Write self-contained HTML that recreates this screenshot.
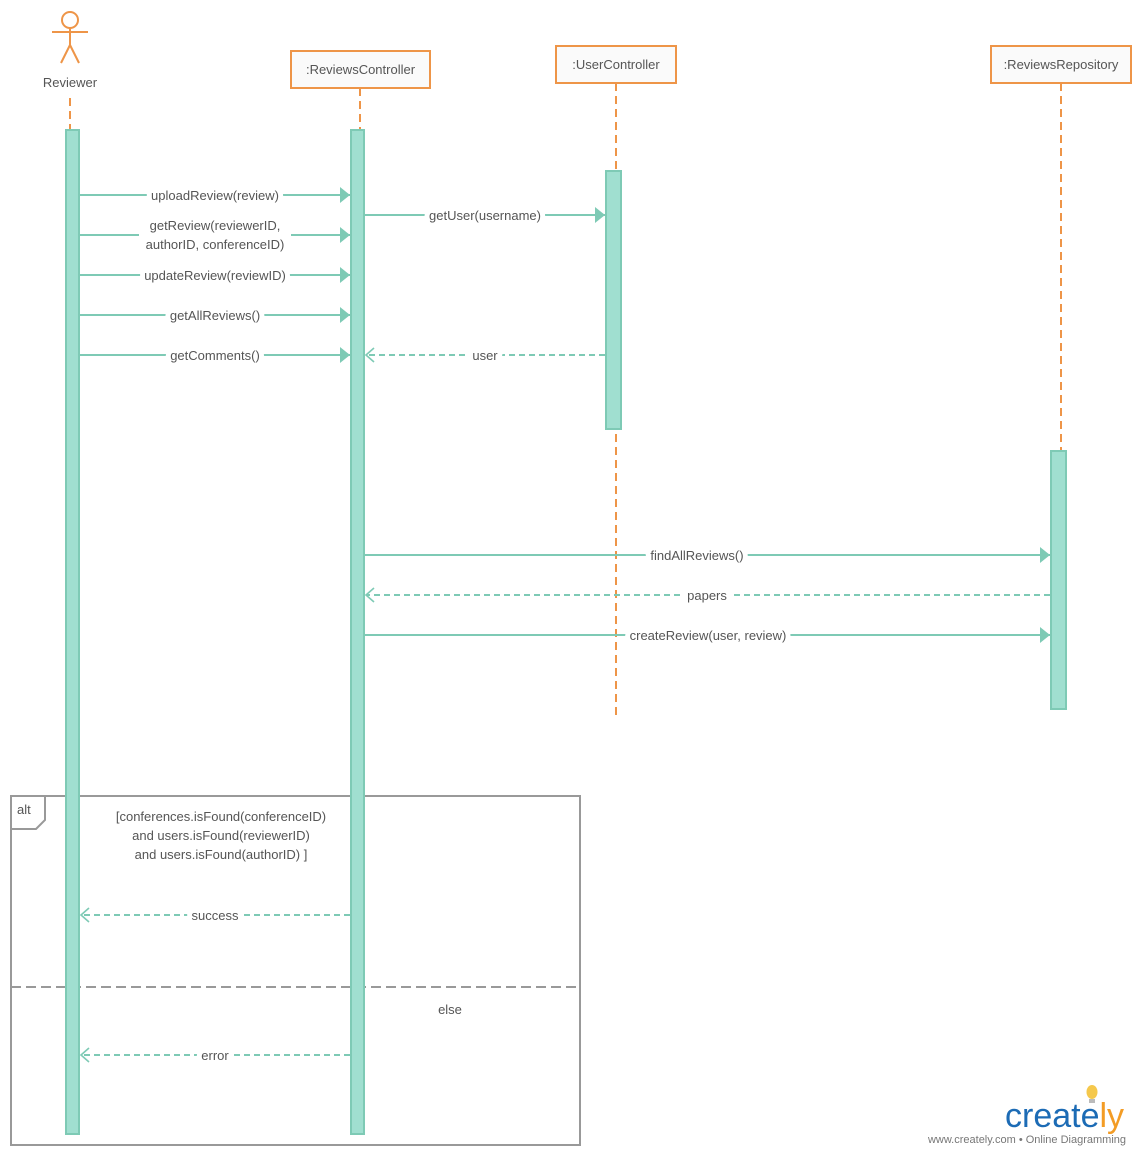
<!DOCTYPE html>
<html><head><meta charset="utf-8"><style>
html,body{margin:0;padding:0;background:#fff;}
svg{display:block;}
text{font-family:"Liberation Sans",sans-serif;font-size:13px;fill:#555;}
.lb{paint-order:stroke;stroke:#fff;stroke-width:10px;stroke-linejoin:round;}
</style></head><body>
<svg width="1140" height="1155" viewBox="0 0 1140 1155" xmlns="http://www.w3.org/2000/svg">
<defs>
<marker id="fa" markerWidth="12" markerHeight="16" refX="10" refY="8" orient="auto" markerUnits="userSpaceOnUse"><path d="M0,0 L10,8 L0,16 z" fill="#7ecab5"/></marker>
<marker id="oa" markerWidth="12" markerHeight="18" refX="9" refY="8" orient="auto" markerUnits="userSpaceOnUse"><path d="M1,1 L9,8 L1,15" fill="none" stroke="#7ecab5" stroke-width="1.6"/></marker>
</defs>

<!-- alt frame -->
<rect x="11" y="796" width="569" height="349" fill="none" stroke="#999" stroke-width="2"/>
<path d="M11,829 L36,829 L45,820 L45,796" fill="none" stroke="#999" stroke-width="2"/>
<text x="17" y="814">alt</text>
<line x1="11" y1="987" x2="580" y2="987" stroke="#999" stroke-width="2" stroke-dasharray="10,5"/>
<text x="221" y="821" text-anchor="middle">[conferences.isFound(conferenceID)</text>
<text x="221" y="840" text-anchor="middle">and users.isFound(reviewerID)</text>
<text x="221" y="859" text-anchor="middle">and users.isFound(authorID) ]</text>
<text x="450" y="1014" text-anchor="middle">else</text>

<!-- actor -->
<g stroke="#ee9548" stroke-width="2" fill="none">
<circle cx="70" cy="20" r="8" fill="#fff"/>
<line x1="70" y1="28" x2="70" y2="45"/>
<line x1="52" y1="32" x2="88" y2="32"/>
<line x1="70" y1="45" x2="61" y2="63"/>
<line x1="70" y1="45" x2="79" y2="63"/>
</g>
<text x="70" y="87" text-anchor="middle">Reviewer</text>

<!-- boxes -->
<g stroke="#ee9548" stroke-width="2" fill="#fafafa">
<rect x="291" y="51" width="139" height="37"/>
<rect x="556" y="46" width="120" height="37"/>
<rect x="991" y="46" width="140" height="37"/>
</g>
<text x="360.5" y="74" text-anchor="middle">:ReviewsController</text>
<text x="616" y="69" text-anchor="middle">:UserController</text>
<text x="1061" y="69" text-anchor="middle">:ReviewsRepository</text>

<!-- lifelines -->
<g stroke="#ee9548" stroke-width="2" stroke-dasharray="8,5">
<line x1="70" y1="98" x2="70" y2="130"/>
<line x1="360" y1="88" x2="360" y2="130"/>
<line x1="616" y1="83" x2="616" y2="720"/>
<line x1="1061" y1="83" x2="1061" y2="451"/>
</g>

<!-- activations -->
<g fill="#a0dfd0" stroke="#7ecab5" stroke-width="2">
<rect x="66" y="130" width="13" height="1004"/>
<rect x="351" y="130" width="13" height="1004"/>
<rect x="606" y="171" width="15" height="258"/>
<rect x="1051" y="451" width="15" height="258"/>
</g>

<!-- messages -->
<g stroke="#7ecab5" stroke-width="2" fill="none">
<line x1="79" y1="195" x2="350" y2="195" marker-end="url(#fa)"/>
<line x1="79" y1="235" x2="350" y2="235" marker-end="url(#fa)"/>
<line x1="79" y1="275" x2="350" y2="275" marker-end="url(#fa)"/>
<line x1="79" y1="315" x2="350" y2="315" marker-end="url(#fa)"/>
<line x1="79" y1="355" x2="350" y2="355" marker-end="url(#fa)"/>
<line x1="364" y1="215" x2="605" y2="215" marker-end="url(#fa)"/>
<line x1="605" y1="355" x2="366" y2="355" stroke-dasharray="6,4" marker-end="url(#oa)"/>
<line x1="364" y1="555" x2="1050" y2="555" marker-end="url(#fa)"/>
<line x1="1050" y1="595" x2="366" y2="595" stroke-dasharray="6,4" marker-end="url(#oa)"/>
<line x1="364" y1="635" x2="1050" y2="635" marker-end="url(#fa)"/>
<line x1="350" y1="915" x2="81" y2="915" stroke-dasharray="6,4" marker-end="url(#oa)"/>
<line x1="350" y1="1055" x2="81" y2="1055" stroke-dasharray="6,4" marker-end="url(#oa)"/>
</g>
<text class="lb" x="215" y="200" text-anchor="middle">uploadReview(review)</text>
<rect x="139" y="219" width="152" height="34" fill="#fff"/>
<text x="215" y="230" text-anchor="middle">getReview(reviewerID,</text>
<text x="215" y="249" text-anchor="middle">authorID, conferenceID)</text>
<text class="lb" x="215" y="280" text-anchor="middle">updateReview(reviewID)</text>
<text class="lb" x="215" y="320" text-anchor="middle">getAllReviews()</text>
<text class="lb" x="215" y="360" text-anchor="middle">getComments()</text>
<text class="lb" x="485" y="220" text-anchor="middle">getUser(username)</text>
<text class="lb" x="485" y="360" text-anchor="middle">user</text>
<text class="lb" x="697" y="560" text-anchor="middle">findAllReviews()</text>
<text class="lb" x="707" y="600" text-anchor="middle">papers</text>
<text class="lb" x="708" y="640" text-anchor="middle">createReview(user, review)</text>
<text class="lb" x="215" y="920" text-anchor="middle">success</text>
<text class="lb" x="215" y="1060" text-anchor="middle">error</text>

<!-- logo -->
<ellipse cx="1092" cy="1092" rx="5.5" ry="7" fill="#f5c84c"/>
<rect x="1089" y="1099" width="6" height="4" fill="#bbb"/>
<text x="1005" y="1127" style="font-size:34px;fill:#1c6bb5;">create<tspan style="fill:#f39c25">ly</tspan></text>
<text x="1126" y="1143" text-anchor="end" style="font-size:11px;fill:#777;">www.creately.com • Online Diagramming</text>
</svg>
</body></html>
